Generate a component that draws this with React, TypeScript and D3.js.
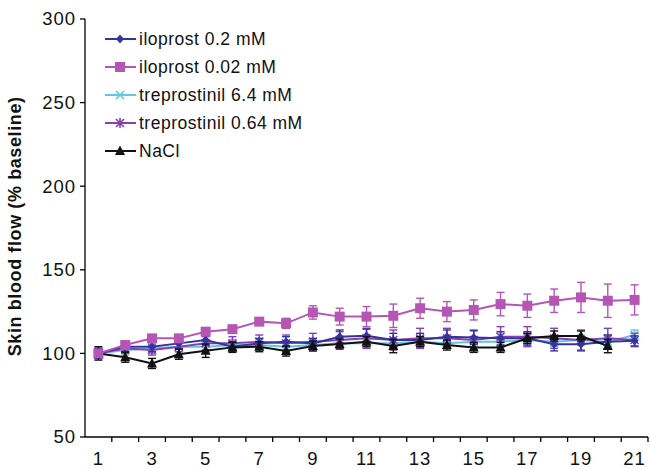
import React from "react";
import * as d3 from "d3";

const days = d3.range(1, 22);
const xTickLabels = [1, 3, 5, 7, 9, 11, 13, 15, 17, 19, 21];
const yTicks = [50, 100, 150, 200, 250, 300];

const ilo02 = [100, 104, 104, 106, 108, 104, 106, 107, 106, 110, 110.5, 108, 108, 110, 109.5, 109, 109, 105.5, 105.5, 107, 107.5];
const ilo02Err = [3, 3, 3, 3, 3, 3, 3, 3, 3, 4, 4, 4, 4, 4, 4, 4, 4, 4, 4, 4, 3];
const ilo002 = [100, 105, 109, 109, 113, 114.5, 119, 118, 124.5, 122, 122, 122.5, 127, 125, 126, 129.5, 128.5, 131.5, 133.5, 131.5, 132];
const ilo002Err = [2, 2, 2, 2, 2, 2, 2, 3, 4, 5, 6, 7, 6, 6, 6, 7, 7, 7, 9, 10, 9];
const tre64 = [100, 102, 103, 104, 104, 105, 105, 104, 105, 106, 106, 106, 107, 106, 107, 107, 108, 107, 108, 107, 111];
const tre64Err = [3, 3, 3, 3, 3, 3, 3, 3, 3, 3, 3, 3, 3, 3, 3, 3, 3, 3, 3, 3, 3];
const tre064 = [100, 103, 102, 104, 106, 106, 107, 106, 107, 108, 109, 108, 109, 109, 108, 110, 110, 109, 108, 109, 108];
const tre064Err = [3, 3, 3, 3, 4, 4, 4, 5, 5, 5, 6, 6, 6, 6, 6, 6, 6, 6, 6, 6, 4];
const nacl = [100, 97.7, 94, 99.5, 101.6, 103.6, 104, 101.4, 104.4, 105.6, 107, 104.4, 107, 105, 103.6, 103.6, 109, 110.4, 110.4, 104.4];
const naclErr = [4, 3, 3, 3, 4, 3, 3, 3, 3, 3, 3, 4, 3, 3, 3, 3, 3, 3, 3, 4];

type Series = { name: string; values: number[]; err: number[]; color: string; marker: string };

const series: Series[] = [
  { name: "treprostinil 6.4 mM", values: tre64, err: tre64Err, color: "#5ec8e0", marker: "x" },
  { name: "treprostinil 0.64 mM", values: tre064, err: tre064Err, color: "#8a3fae", marker: "star" },
  { name: "iloprost 0.2 mM", values: ilo02, err: ilo02Err, color: "#34349e", marker: "diamond" },
  { name: "NaCl", values: nacl, err: naclErr, color: "#111111", marker: "triangle" },
  { name: "iloprost 0.02 mM", values: ilo002, err: ilo002Err, color: "#b556b5", marker: "square" },
];

const legendOrder = ["iloprost 0.2 mM", "iloprost 0.02 mM", "treprostinil 6.4 mM", "treprostinil 0.64 mM", "NaCl"];

const W = 650;
const H = 469;

function Marker({ type, x, y, color }: { type: string; x: number; y: number; color: string }) {
  if (type === "square") return <rect x={x - 5} y={y - 5} width={10} height={10} fill={color} />;
  if (type === "diamond")
    return <path d={`M${x},${y - 4.5}L${x + 4},${y}L${x},${y + 4.5}L${x - 4},${y}Z`} fill={color} />;
  if (type === "triangle")
    return <path d={`M${x},${y - 5.5}L${x + 5},${y + 4}L${x - 5},${y + 4}Z`} fill={color} />;
  if (type === "x")
    return (
      <path d={`M${x - 4},${y - 4}L${x + 4},${y + 4}M${x - 4},${y + 4}L${x + 4},${y - 4}`} stroke={color} strokeWidth={1.6} />
    );
  // star
  return (
    <path
      d={`M${x - 4},${y - 4}L${x + 4},${y + 4}M${x - 4},${y + 4}L${x + 4},${y - 4}M${x},${y - 5}L${x},${y + 5}`}
      stroke={color}
      strokeWidth={1.6}
    />
  );
}

export default function App() {
  const x = d3.scaleLinear().domain([0.5, 21.5]).range([85, 648]);
  const y = d3.scaleLinear().domain([50, 300]).range([437, 19]);
  const line = d3
    .line<number>()
    .x((_, i) => x(days[i]))
    .y((d) => y(d));
  const boundaries = d3.range(1.5, 21.6, 1);
  const font = "'Liberation Sans', Arial, sans-serif";

  return (
    <svg width={W} height={H} style={{ position: "absolute", left: 0, top: 0, background: "#fff" }} fontFamily={font}>
      {/* axes */}
      <line x1={85} x2={85} y1={y(300)} y2={y(50)} stroke="#000" strokeWidth={1.3} />
      <line x1={85} x2={648} y1={y(50)} y2={y(50)} stroke="#000" strokeWidth={1.3} />
      {yTicks.map((t) => (
        <g key={t}>
          <line x1={80} x2={85} y1={y(t)} y2={y(t)} stroke="#000" strokeWidth={1.3} />
          <text x={76} y={y(t)} dy="0.35em" textAnchor="end" fontSize={18.5} letterSpacing={1} fill="#111">
            {t}
          </text>
        </g>
      ))}
      {boundaries.map((b) => (
        <line key={b} x1={x(b)} x2={x(b)} y1={y(50)} y2={y(50) + 5} stroke="#000" strokeWidth={1.3} />
      ))}
      {xTickLabels.map((t) => (
        <text key={t} x={x(t)} y={459} dy="0.35em" textAnchor="middle" fontSize={18.5} letterSpacing={1} fill="#111">
          {t}
        </text>
      ))}
      <text
        transform={`translate(15,${y(176)}) rotate(-90)`}
        textAnchor="middle"
        dy="0.35em"
        fontSize={18}
        letterSpacing={0.6}
        fontWeight="bold"
        fill="#111"
      >
        Skin blood flow (% baseline)
      </text>

      {/* series */}
      {series.map((s) => (
        <g key={s.name}>
          {s.values.map((v, i) => (
            <g key={i} stroke={s.color} strokeWidth={1.4}>
              <line x1={x(days[i])} x2={x(days[i])} y1={y(v - s.err[i])} y2={y(v + s.err[i])} />
              <line x1={x(days[i]) - 4} x2={x(days[i]) + 4} y1={y(v + s.err[i])} y2={y(v + s.err[i])} />
              <line x1={x(days[i]) - 4} x2={x(days[i]) + 4} y1={y(v - s.err[i])} y2={y(v - s.err[i])} />
            </g>
          ))}
          <path d={line(s.values) || ""} fill="none" stroke={s.color} strokeWidth={2} />
          {s.values.map((v, i) => (
            <Marker key={i} type={s.marker} x={x(days[i])} y={y(v)} color={s.color} />
          ))}
        </g>
      ))}

      {/* legend */}
      {legendOrder.map((name, i) => {
        const s = series.find((d) => d.name === name)!;
        const ly = 39 + i * 28;
        return (
          <g key={name}>
            <line x1={105} x2={136} y1={ly} y2={ly} stroke={s.color} strokeWidth={2} />
            <Marker type={s.marker} x={120} y={ly} color={s.color} />
            <text x={139} y={ly} dy="0.35em" fontSize={17.5} letterSpacing={0.5} fill="#111">
              {name}
            </text>
          </g>
        );
      })}
    </svg>
  );
}
